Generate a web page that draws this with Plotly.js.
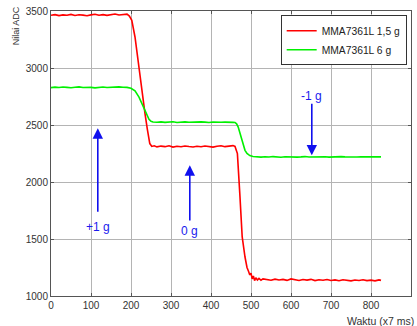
<!DOCTYPE html>
<html>
<head>
<meta charset="utf-8">
<script src="https://cdn.plot.ly/plotly-3.0.1.min.js"></script>
<style>html,body{margin:0;padding:0;background:#fff;}#chart{width:417px;height:326px;}</style>
</head>
<body>
<div id="chart"></div>
<script>
// ---- data ----
const seriesNames = ['MMA7361L 1,5 g', 'MMA7361L 6 g'];

const redX = [0,10,20,30,40,50,60,70,80,90,100,110,120,130,140,150,160,170,180,190,
  196,202,210,216,222,228,235,241,247,252,258,
  265,275,285,295,305,315,325,335,345,355,365,375,385,395,405,415,425,435,445,455,
  460,466,472,478,485,490,494,497,500,503,506,509,512,516,520,525,530,
  540,550,560,570,580,590,600,610,620,630,640,650,660,670,680,690,700,710,720,730,740,750,760,770,780,790,800,810,820,825];
const redY = [3462,3468,3460,3466,3463,3470,3461,3467,3464,3459,3466,3471,3463,3468,3462,3467,3473,3465,3470,3472,
  3455,3418,3272,3100,2921,2760,2600,2460,2337,2312,2318,
  2308,2315,2310,2318,2306,2313,2309,2316,2311,2307,2314,2309,2316,2311,2306,2313,2318,2310,2315,2319,
  2312,2249,1898,1518,1342,1250,1215,1185,1200,1150,1175,1135,1160,1140,1155,1138,1150,
  1145,1138,1148,1140,1146,1137,1150,1141,1136,1144,1139,1146,1135,1142,1138,1145,1136,1141,1134,1143,1138,1133,1140,1136,1142,1135,1139,1133,1141,1137];

const greenX = [0,10,20,30,40,50,60,70,80,90,100,110,120,130,140,150,160,170,180,
  190,200,210,220,230,240,245,250,255,
  265,275,285,295,305,315,325,335,345,355,365,375,385,395,405,415,425,435,445,455,
  460,464,468,472,477,481,485,490,497,505,
  515,525,535,545,555,565,575,585,595,605,615,625,635,645,655,665,675,685,695,705,715,725,735,745,755,765,775,785,795,805,815,825];
const greenY = [2828,2832,2829,2833,2830,2827,2831,2834,2829,2832,2830,2826,2831,2833,2829,2832,2830,2834,2831,
  2830,2822,2800,2745,2665,2585,2550,2532,2526,
  2524,2527,2523,2526,2528,2522,2525,2527,2524,2526,2523,2527,2525,2522,2526,2528,2524,2525,2527,2523,
  2522,2510,2482,2430,2366,2315,2278,2250,2232,2224,
  2221,2218,2222,2219,2223,2220,2217,2221,2219,2222,2218,2220,2223,2219,2221,2217,2220,2222,2218,2221,2219,2223,2220,2218,2221,2219,2222,2218,2220,2221,2219,2220];

// arrows: x position, tail value, head value, label, label value
const arrowX = [117, 347, 652];
const arrowTail = [1725, 1649, 2700];
const arrowHead = [2471, 2146, 2234];
const arrowLabels = ['+1 g', '0 g', '-1 g'];
const labelY = [1602, 1570, 2757];

const xTicks = [0,100,200,300,400,500,600,700,800,900];
const yTicks = [1000,1500,2000,2500,3000,3500];

// ---- chart ----
const FONT = 'Liberation Sans, Arial, sans-serif';
const traces = [
  {x: redX, y: redY, name: seriesNames[0], type: 'scatter', mode: 'lines',
   line: {color: '#ff0000', width: 1.6}},
  {x: greenX, y: greenY, name: seriesNames[1], type: 'scatter', mode: 'lines',
   line: {color: '#00f000', width: 1.6}}
];

const annotations = [];
for (let i = 0; i < arrowX.length; i++) {
  annotations.push({
    x: arrowX[i], y: arrowHead[i], ax: arrowX[i], ay: arrowTail[i],
    xref: 'x', yref: 'y', axref: 'x', ayref: 'y',
    text: '', showarrow: true, arrowhead: 2, arrowsize: 1.3, arrowwidth: 1.6,
    arrowcolor: '#1010ee'
  });
  annotations.push({
    x: arrowX[i], y: labelY[i], xref: 'x', yref: 'y', text: arrowLabels[i],
    showarrow: false, font: {family: FONT, size: 12, color: '#1a1aee'},
    xanchor: 'center', yanchor: 'middle'
  });
}
annotations.push({
  text: 'Nilai ADC', xref: 'paper', yref: 'paper', x: -0.097, y: 0.947,
  textangle: -90, showarrow: false, xanchor: 'center', yanchor: 'middle',
  font: {family: FONT, size: 9, color: '#333'}
});
annotations.push({
  text: 'Waktu (x7 ms)', xref: 'paper', yref: 'paper', x: 1.014, y: -0.088,
  showarrow: false, xanchor: 'right', yanchor: 'middle',
  font: {family: FONT, size: 10.5, color: '#333'}
});

const axisCommon = {
  showline: true, linecolor: '#555', linewidth: 1, mirror: 'allticks',
  ticks: 'inside', ticklen: 3, tickcolor: '#555',
  showgrid: true, gridcolor: '#b4b4b4', gridwidth: 1, zeroline: false,
  tickfont: {family: FONT, size: 10, color: '#333'}
};

const layout = {
  width: 417, height: 326,
  margin: {l: 51, r: 6, t: 11, b: 30},
  paper_bgcolor: '#fff', plot_bgcolor: '#fff',
  showlegend: true,
  legend: {x: 0.988, y: 0.985, xanchor: 'right', yanchor: 'top',
    bgcolor: '#fff', bordercolor: '#333', borderwidth: 1,
    font: {family: FONT, size: 10.3, color: '#222'}, tracegroupgap: 0},
  xaxis: Object.assign({}, axisCommon, {range: [0, 900], tickvals: xTicks, ticktext: xTicks.map(String)}),
  yaxis: Object.assign({}, axisCommon, {range: [1000, 3500], tickvals: yTicks, ticktext: yTicks.map(String)}),
  annotations: annotations
};

Plotly.newPlot('chart', traces, layout, {staticPlot: true, displayModeBar: false});
</script>
</body>
</html>
